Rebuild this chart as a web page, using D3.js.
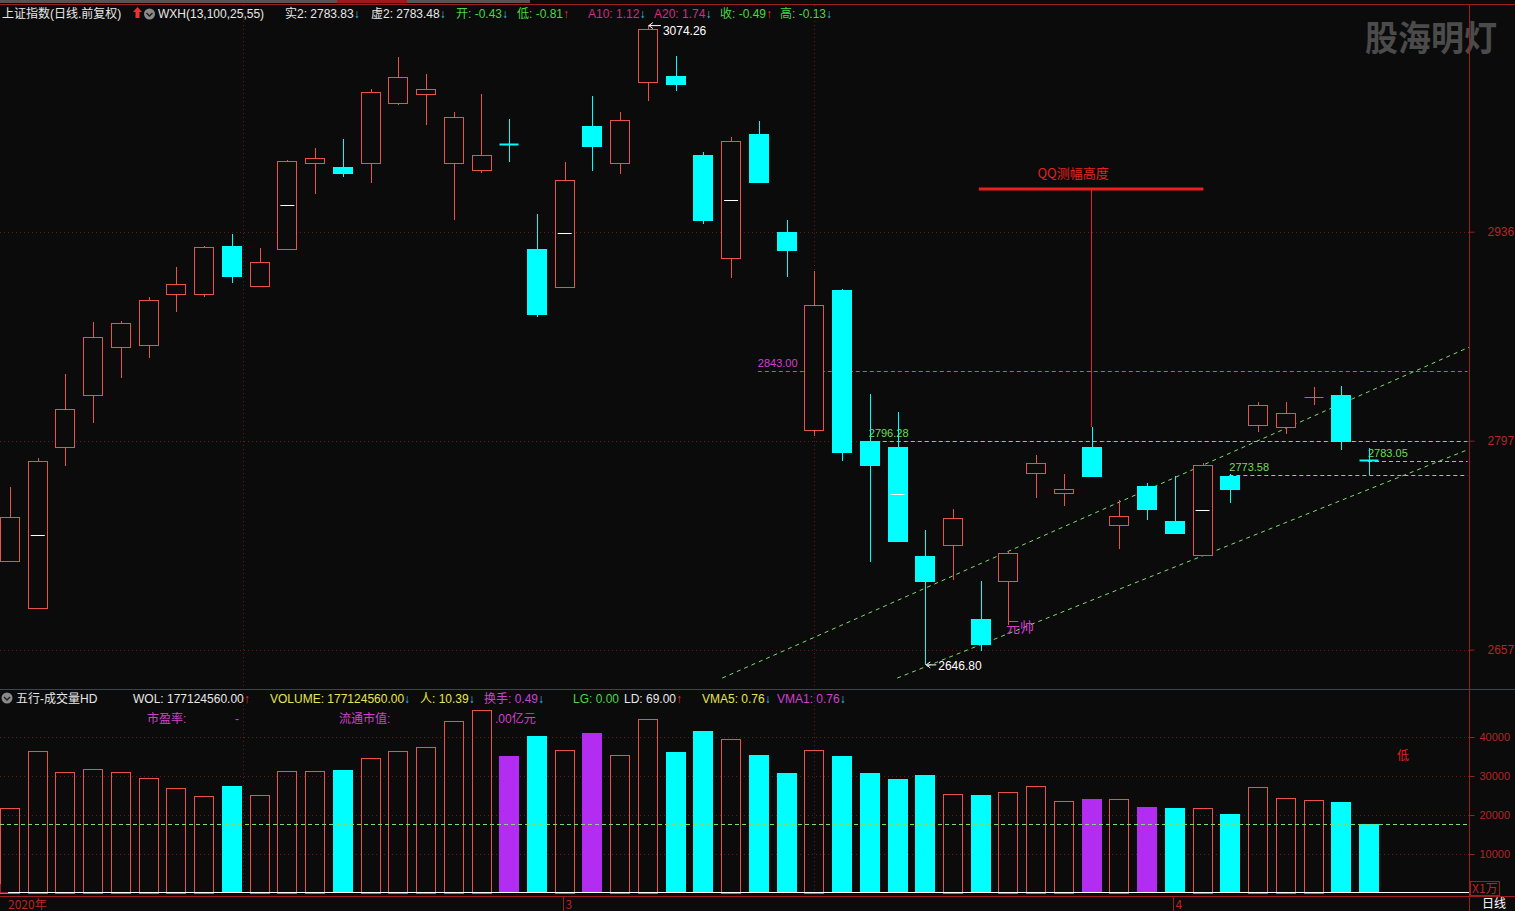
<!DOCTYPE html>
<html><head><meta charset="utf-8">
<script src="https://cdn.jsdelivr.net/npm/d3@7"></script>
<style>
html,body{margin:0;padding:0;background:#0b0b0b;overflow:hidden}
svg{display:block}
text{font-family:"Liberation Sans","Noto Sans CJK SC",sans-serif;font-size:12px}
</style></head><body>
<svg id="c" width="1515" height="911"></svg>
<script>
// ---------- DATA ----------
const dates = ["2020-02-03","2020-02-04","2020-02-05","2020-02-06","2020-02-07","2020-02-10","2020-02-11","2020-02-12","2020-02-13","2020-02-14",
"2020-02-17","2020-02-18","2020-02-19","2020-02-20","2020-02-21","2020-02-24","2020-02-25","2020-02-26","2020-02-27","2020-02-28",
"2020-03-02","2020-03-03","2020-03-04","2020-03-05","2020-03-06","2020-03-09","2020-03-10","2020-03-11","2020-03-12","2020-03-13",
"2020-03-16","2020-03-17","2020-03-18","2020-03-19","2020-03-20","2020-03-23","2020-03-24","2020-03-25","2020-03-26","2020-03-27",
"2020-03-30","2020-03-31","2020-04-01","2020-04-02","2020-04-03","2020-04-07","2020-04-08","2020-04-09","2020-04-10","2020-04-13"];
const openP  = [2716.2,2684.8,2792.3,2827.0,2859.0,2860.4,2894.4,2894.4,2926.4,2899.7,
                2924.4,2981.9,2979.2,2981.9,3021.9,3027.9,2981.9,2977.2,2994.5,2924.4,
                2899.1,3006.6,2981.9,3035.9,3039.9,2987.2,2918.4,3001.2,2935.8,2803.6,
                2897.1,2796.3,2792.3,2719.5,2726.8,2677.4,2702.8,2774.9,2761.6,2792.3,
                2740.2,2766.2,2742.9,2720.2,2772.9,2807.0,2805.6,2825.6,2827.0,2783.6];
const highP  = [2765.6,2784.9,2841.0,2875.7,2876.4,2892.4,2912.4,2926.4,2934.5,2925.1,
                2983.9,2991.9,2997.9,3031.3,3052.6,3041.3,3015.9,3027.9,3011.2,2947.8,
                2982.5,3026.6,3015.9,3074.26,3053.3,2989.2,2999.2,3009.9,2943.8,2909.8,
                2897.7,2827.6,2815.6,2736.9,2750.9,2702.8,2722.8,2786.9,2774.2,2805.6,
                2756.9,2768.2,2772.9,2781.6,2774.2,2822.3,2822.3,2832.3,2833.0,2791.6];
const lowP   = [2716.2,2684.8,2779.6,2808.3,2838.3,2851.7,2882.4,2892.4,2901.7,2899.7,
                2923.8,2961.2,2972.5,2968.5,3020.6,3007.2,2943.8,2975.2,2982.5,2879.1,
                2899.1,2976.5,2974.5,3023.2,3029.9,2941.1,2905.1,2968.5,2905.8,2799.6,
                2782.9,2715.5,2729.5,2646.8,2703.5,2656.1,2673.4,2758.2,2752.9,2772.9,
                2724.2,2743.5,2734.2,2719.5,2754.9,2802.3,2800.9,2820.3,2790.3,2773.6];
const closeP = [2745.5,2782.9,2817.6,2865.7,2875.0,2890.4,2901.1,2925.8,2906.4,2915.8,
                2983.2,2985.2,2975.2,3029.3,3039.3,3031.3,3012.6,2987.2,2993.9,2881.1,
                2970.5,2993.2,3010.6,3071.3,3034.6,2943.8,2996.5,2969.2,2923.8,2887.1,
                2788.9,2780.2,2729.5,2702.8,2744.9,2660.7,2721.5,2781.6,2764.2,2772.9,
                2746.2,2750.9,2734.9,2780.2,2764.2,2820.3,2815.0,2825.9,2796.6,2783.05];
// volume, unit: 10k (X1万)
const volume = [21800,36400,31000,31800,31000,29500,26900,24900,27400,25100,
                31300,31300,31500,34600,36400,37400,44100,46900,35100,40300,
                36700,41000,35400,44600,36200,41500,39500,35400,30800,36700,
                35100,30800,29200,30300,25400,25100,25900,27400,23600,24100,
                24100,22000,21800,21800,20300,27200,24400,23800,23300,17712];
const purpleVolDays = [18,21,39,41];      // special-coloured volume bars
const midMarkDays   = [1,10,20,26,32,43]; // white mid-body marks
// horizontal levels: value, start day, colour
const levelValues = [2843.00, 2796.28, 2773.58, 2783.05];
const levelStart  = [27, 31, 44, 49];
const levelColors = ["#cf3fcf", "#7ddc6e", "#7ddc6e", "#7ddc6e"];
// trend channel lines: [dayA, priceA, dayB, priceB]
const trendUpper = [25.68, 2638.0, 52.62, 2859.0];
const trendLower = [31.99, 2638.0, 52.62, 2790.9];
// QQ height annotation
const qqLevel = 2964.5, qqFrom = 34.93, qqTo = 43.03, qqDay = 39;
const marshalPrice = 2672.1; // "元帅" label level
const priceTicks = [2657, 2796.5, 2936];
const volTicks = [10000, 20000, 30000, 40000];
const volRefLevel = 17712;
const monthLabels = ["2020年", "3", "4"];
const monthDays = [0, 20, 42];

// ---------- LAYOUT ----------
const W = 1515, H = 911;
const axisX = 1469.5;
const svg = d3.select("#c");
svg.append("rect").attr("width", W).attr("height", H).attr("fill", "#0b0b0b");

const x = d3.scaleBand().domain(d3.range(dates.length))
  .range([-3.865, 1382.865]).paddingInner(0.28).paddingOuter(0.14);
const bw = x.bandwidth();
const cx = i => x(i) + bw / 2;
const xd = d3.scaleLinear().domain([0, dates.length - 1]).range([cx(0), cx(dates.length - 1)]);
const yP = d3.scaleLinear().domain([2646.8, 3074.26]).range([664.9, 24.6]);
const yV = d3.scaleLinear().domain([0, 40000]).range([893, 737]);

const RED = "#e8524a", CYAN = "#00ffff", PURPLE = "#b22cf2";
const GRID = "#701616", AXIS = "#9c1e1e", AXT = "#b42626";

// top strip
svg.append("rect").attr("x", 0).attr("y", 0).attr("width", 530).attr("height", 3).attr("fill", "#555");
svg.append("rect").attr("x", 337).attr("y", 0).attr("width", 70).attr("height", 3).attr("fill", "#a01818");
svg.append("line").attr("x1", 0).attr("x2", W).attr("y1", 4.5).attr("y2", 4.5).attr("stroke", AXIS);

// grid
const g = svg.append("g");
priceTicks.forEach(v => {
  const yy = Math.round(yP(v)) + 0.5;
  g.append("line").attr("x1", 0).attr("x2", axisX).attr("y1", yy).attr("y2", yy)
    .attr("stroke", GRID).attr("stroke-dasharray", "1,3");
});
volTicks.forEach(v => {
  const yy = Math.round(yV(v)) + 0.5;
  g.append("line").attr("x1", 0).attr("x2", axisX).attr("y1", yy).attr("y2", yy)
    .attr("stroke", GRID).attr("stroke-dasharray", "1,3");
});
[243.5, 814.5].forEach(xx => {
  g.append("line").attr("x1", xx).attr("x2", xx).attr("y1", 5).attr("y2", 893)
    .attr("stroke", GRID).attr("stroke-dasharray", "1,3");
});

// watermark
svg.append("text").attr("x", 1365).attr("y", 51)
  .attr("textLength", 132).attr("lengthAdjust", "spacingAndGlyphs")
  .style("font-family", "Noto Sans CJK SC").style("font-size", "35px").style("font-weight", "bold")
  .attr("fill", "#4b4b4b").text("股海明灯");

// levels
levelValues.forEach((v, k) => {
  const yy = Math.round(yP(v)) + 0.5;
  svg.append("line").attr("x1", cx(levelStart[k]) - 1).attr("x2", axisX - 2).attr("y1", yy).attr("y2", yy)
    .attr("stroke", levelColors[k]).attr("stroke-dasharray", "4,3");
  svg.append("text").attr("x", cx(levelStart[k]) - 1).attr("y", yy - 5)
    .style("font-size", "11px").attr("fill", levelColors[k] === "#cf3fcf" ? "#d040d0" : "#6fdc5a")
    .text(v.toFixed(2));
});

// trend lines
[trendUpper, trendLower].forEach(t => {
  svg.append("line").attr("x1", xd(t[0])).attr("y1", yP(t[1])).attr("x2", xd(t[2])).attr("y2", yP(t[3]))
    .attr("stroke", "#7ddc6e").attr("stroke-dasharray", "4,4");
});

// candles
const cg = svg.append("g");
dates.forEach((d, i) => {
  const o = openP[i], c = closeP[i], h = highP[i], l = lowP[i];
  const up = c >= o;
  const col = up ? RED : CYAN;
  const xm = Math.round(cx(i)) + 0.5;
  const x0 = Math.round(x(i)) + 0.5, w = Math.round(bw) - 1;
  const yt = Math.round(yP(Math.max(o, c))), yb = Math.round(yP(Math.min(o, c)));
  const yh = Math.round(yP(h)), yl = Math.round(yP(l));
  if (yb - yt <= 1) {
    cg.append("line").attr("x1", xm).attr("x2", xm).attr("y1", yh).attr("y2", yl).attr("stroke", col);
    cg.append("line").attr("x1", x0).attr("x2", x0 + w).attr("y1", yt + 0.5).attr("y2", yt + 0.5).attr("stroke", col).attr("stroke-width", up ? 1 : 2);
    return;
  }
  if (up) {
    cg.append("line").attr("x1", xm).attr("x2", xm).attr("y1", yh).attr("y2", yt).attr("stroke", col);
    cg.append("line").attr("x1", xm).attr("x2", xm).attr("y1", yb).attr("y2", yl).attr("stroke", col);
    cg.append("rect").attr("x", x0).attr("y", yt + 0.5).attr("width", w).attr("height", yb - yt)
      .attr("fill", "#0b0b0b").attr("stroke", col);
  } else {
    cg.append("line").attr("x1", xm).attr("x2", xm).attr("y1", yh).attr("y2", yl).attr("stroke", col);
    cg.append("rect").attr("x", x0 - 0.5).attr("y", yt).attr("width", w + 1).attr("height", yb - yt + 1)
      .attr("fill", col);
  }
});
midMarkDays.forEach(i => {
  const ym = Math.round(yP((openP[i] + closeP[i]) / 2)) + 0.5;
  cg.append("line").attr("x1", cx(i) - 7).attr("x2", cx(i) + 7).attr("y1", ym).attr("y2", ym).attr("stroke", "#ffffff");
});

// high / low markers
const iHi = d3.maxIndex(highP), iLo = d3.minIndex(lowP);
svg.append("text").attr("x", cx(iHi) + 15).attr("y", yP(highP[iHi]) + 10).attr("fill", "#ffffff")
  .text(highP[iHi].toFixed(2));
svg.append("path").attr("d", `M${cx(iHi)+1},${yP(highP[iHi])+1} l4,-3 M${cx(iHi)+1},${yP(highP[iHi])+1} l4,3 M${cx(iHi)+1},${yP(highP[iHi])+1} h12`)
  .attr("stroke", "#fff").attr("fill", "none");
svg.append("text").attr("x", cx(iLo) + 13).attr("y", yP(lowP[iLo]) + 5).attr("fill", "#ffffff")
  .text(lowP[iLo].toFixed(2));
svg.append("path").attr("d", `M${cx(iLo)+1},${yP(lowP[iLo])} l4,-3 M${cx(iLo)+1},${yP(lowP[iLo])} l4,3 M${cx(iLo)+1},${yP(lowP[iLo])} h10`)
  .attr("stroke", "#fff").attr("fill", "none");

// QQ annotation
const yq = yP(qqLevel);
svg.append("line").attr("x1", xd(qqFrom)).attr("x2", xd(qqTo)).attr("y1", yq).attr("y2", yq)
  .attr("stroke", "#e8201e").attr("stroke-width", 3);
svg.append("line").attr("x1", Math.round(cx(qqDay)) - 0.5).attr("x2", Math.round(cx(qqDay)) - 0.5)
  .attr("y1", yq).attr("y2", yP(highP[qqDay])).attr("stroke", "#e8201e");
svg.append("text").attr("x", (xd(qqFrom) + xd(qqTo)) / 2 - 18).attr("y", yq - 11).attr("text-anchor", "middle")
  .style("font-family", "Noto Sans CJK SC").style("font-size", "13px").attr("fill", "#e8201e").text("QQ测幅高度");
svg.append("text").attr("x", 1006).attr("y", yP(marshalPrice) + 5)
  .style("font-family", "Noto Sans CJK SC").style("font-size", "14px").attr("fill", "#cf3fcf").text("元帅");

// volume bars
const vg = svg.append("g");
volume.forEach((v, i) => {
  const up = closeP[i] >= openP[i];
  const purple = purpleVolDays.includes(i);
  const yt = Math.round(yV(v)), yb = Math.round(yV(0));
  const x0 = Math.round(x(i)), w = Math.round(bw);
  if (purple || !up) {
    vg.append("rect").attr("x", x0).attr("y", yt).attr("width", w).attr("height", yb - yt)
      .attr("fill", purple ? PURPLE : CYAN);
  } else {
    vg.append("rect").attr("x", x0 + 0.5).attr("y", yt + 0.5).attr("width", w - 1).attr("height", yb - yt)
      .attr("fill", "none").attr("stroke", RED);
  }
});
svg.append("line").attr("x1", 0).attr("x2", axisX).attr("y1", Math.round(yV(volRefLevel)) + 0.5).attr("y2", Math.round(yV(volRefLevel)) + 0.5)
  .attr("stroke", "#7ddc6e").attr("stroke-dasharray", "4,3");
svg.append("line").attr("x1", 8).attr("x2", axisX).attr("y1", 892.5).attr("y2", 892.5).attr("stroke", "#ffffff");

// frame lines
svg.append("line").attr("x1", axisX).attr("x2", axisX).attr("y1", 4).attr("y2", H).attr("stroke", AXIS);
svg.append("line").attr("x1", 0).attr("x2", W).attr("y1", 689.5).attr("y2", 689.5).attr("stroke", AXIS);
svg.append("line").attr("x1", 0).attr("x2", W).attr("y1", 896.5).attr("y2", 896.5).attr("stroke", AXIS);
svg.append("path").attr("d", "M0.5,884 V892.5 H8").attr("stroke", AXIS).attr("fill", "none");

// right axes
const pAxis = d3.axisRight(yP).tickValues(priceTicks).tickSize(5).tickPadding(13).tickFormat(d3.format(".0f"));
const pa = svg.append("g").attr("transform", `translate(${axisX},0)`).call(pAxis);
const vAxis = d3.axisRight(yV).tickValues(volTicks).tickSize(5).tickPadding(5).tickFormat(d3.format("d"));
const va = svg.append("g").attr("transform", `translate(${axisX},0)`).call(vAxis);
[pa, va].forEach(a => {
  a.select(".domain").remove();
  a.selectAll("line").attr("stroke", AXIS);
  a.selectAll("text").attr("fill", AXT).style("font-family", "Liberation Sans");
});
pa.selectAll("text").style("font-size", "12px");
va.selectAll("text").style("font-size", "11px");
svg.append("rect").attr("x", 1470.5).attr("y", 881.5).attr("width", 29).attr("height", 14).attr("fill", "none").attr("stroke", AXIS);
svg.append("text").attr("x", 1472).attr("y", 893).attr("fill", AXT).style("font-family", "Noto Sans CJK SC").text("X1万");
svg.append("text").attr("x", 1482).attr("y", 908).attr("fill", "#ffffff").style("font-family", "Noto Sans CJK SC").text("日线");

// bottom axis
monthDays.forEach((d, k) => {
  const xx = k === 0 ? 8 : Math.round(cx(d)) - 1.5;
  if (k > 0) svg.append("line").attr("x1", xx).attr("x2", xx).attr("y1", 897).attr("y2", H).attr("stroke", AXIS);
  svg.append("text").attr("x", k === 0 ? 8 : xx + 2).attr("y", 909).attr("fill", AXT)
    .style("font-family", "Noto Sans CJK SC").text(monthLabels[k]);
});

// header (main)
function seg(parent, xx, yy, items) {
  const t = parent.append("text").attr("x", xx).attr("y", yy);
  items.forEach(it => t.append("tspan").attr("fill", it[1]).text(it[0]));
  return t;
}
const WH = "#e8e8e8", GR = "#46d846", DN = "#30c8f0", UPA = "#f03030", MG = "#d040d0", PK = "#d02c86", YL = "#e6e650";
seg(svg, 2, 18, [["上证指数(日线.前复权)", WH]]);
svg.append("path").attr("d", "M133,12 l4.5,-5 l4.5,5 h-2.5 v6 h-4 v-6 z").attr("fill", UPA);
svg.append("circle").attr("cx", 149.5).attr("cy", 14).attr("r", 5.5).attr("fill", "#8a8a8a");
svg.append("path").attr("d", "M146.5,13 l3,3 l3,-3").attr("stroke", "#222").attr("stroke-width", 1.5).attr("fill", "none");
seg(svg, 158, 18, [["WXH(13,100,25,55)", WH]]);
const hdr = [
  [285, "实2: 2783.83", WH, "↓", DN], [371, "虚2: 2783.48", WH, "↓", DN],
  [456, "开: -0.43", GR, "↓", DN], [517, "低: -0.81", GR, "↑", UPA],
  [588, "A10: 1.12", PK, "↓", DN], [654, "A20: 1.74", PK, "↓", DN],
  [720, "收: -0.49", GR, "↑", UPA], [780, "高: -0.13", GR, "↓", DN]
];
hdr.forEach(h => seg(svg, h[0], 18, [[h[1], h[2]], [h[3], h[4]]]));

// header (volume)
svg.append("circle").attr("cx", 7).attr("cy", 698).attr("r", 5.5).attr("fill", "#8a8a8a");
svg.append("path").attr("d", "M4,697 l3,3 l3,-3").attr("stroke", "#222").attr("stroke-width", 1.5).attr("fill", "none");
seg(svg, 16, 703, [["五行-成交量HD", WH]]);
const vh = [
  [133, "WOL: 177124560.00", WH, "↑", UPA], [270, "VOLUME: 177124560.00", YL, "↓", DN],
  [420, "人: 10.39", YL, "↓", DN], [484, "换手: 0.49", MG, "↓", DN],
  [573, "LG: 0.00", GR, "", DN], [624, "LD: 69.00", WH, "↑", UPA],
  [702, "VMA5: 0.76", YL, "↓", DN], [777, "VMA1: 0.76", MG, "↓", DN]
];
vh.forEach(h => seg(svg, h[0], 703, [[h[1], h[2]], [h[3], h[4]]]));
seg(svg, 147, 723, [["市盈率:", MG]]);
seg(svg, 235, 723, [["-", MG]]);
seg(svg, 339, 723, [["流通市值:", MG]]);
seg(svg, 495, 723, [[".00亿元", MG]]);
svg.append("text").attr("x", 1397).attr("y", 760).attr("fill", "#e02020").style("font-family", "Noto Sans CJK SC").text("低");
</script>
</body></html>
